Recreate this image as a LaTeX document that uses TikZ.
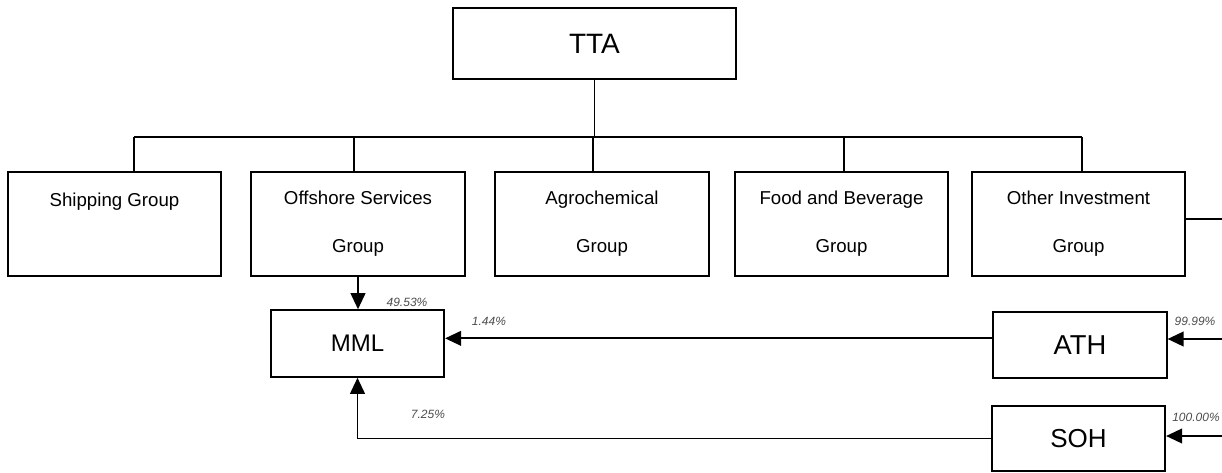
\documentclass[tikz,border=0pt]{standalone}
\usepackage{fontspec}
\setmainfont{Liberation Sans}
\usetikzlibrary{arrows.meta}
\begin{document}
\begin{tikzpicture}[x=0.75pt,y=-0.75pt,
	box/.style={draw,line width=1.4pt,inner sep=0pt,align=center},
	grp/.style={box,minimum width=160pt,minimum height=78pt,font=\fontsize{14}{36}\selectfont},
	co/.style={box,minimum width=130pt,minimum height=50pt},
	pct/.style={font=\fontsize{9}{10}\selectfont\itshape,text=black!70},
	link/.style={line width=1pt},
	own/.style={line width=1.4pt,-{Triangle[length=12pt,width=11pt]}}]
	\useasboundingbox (0,0) rectangle (1222,472);
	\node[box,minimum width=212pt,minimum height=53pt,font=\fontsize{21}{24}\selectfont] (tta) at (594.5,43.5) {TTA};
	\node[grp] (ship) at (114.5,224) {Shipping Group\\~};
	\node[grp] (off) at (358,224) {Offshore Services\\Group};
	\node[grp] (agro) at (602,224) {Agrochemical\\Group};
	\node[grp] (food) at (841.5,224) {Food and Beverage\\Group};
	\node[grp] (other) at (1078.5,224) {Other Investment\\Group};
	\node[co,font=\fontsize{18}{20}\selectfont] (mml) at (357.5,343.5) {MML};
	\node[co,minimum height=49.5pt,font=\fontsize{20.5}{22}\selectfont] (ath) at (1080,345) {ATH};
	\node[co,minimum height=49pt,font=\fontsize{19.5}{22}\selectfont] (soh) at (1078.5,438.5) {SOH};
	\node[pct] (p1) at (407,302) {49.53\%};
	\node[pct] (p2) at (489,321) {1.44\%};
	\node[pct] (p3) at (428,414) {7.25\%};
	\node[pct] (p4) at (1195,321) {99.99\%};
	\node[pct] (p5) at (1196,417) {100.00\%};
	\coordinate (busL) at (134,137);
	\coordinate (busR) at (1082,137);
	\draw[link] (tta.south) -- (tta.south |- busL);
	\draw[link] (busL) -- (busR);
	\foreach \n/\x in {ship/134,off/354,agro/593,food/844,other/1082}
	{
		\coordinate (s) at (\x,137);
		\draw[link] (s) -- (s |- \n.north);
	}
	\coordinate (e1) at (1222,219);
	\draw[link] (e1 -| other.east) -- (e1);
	\draw[own] (off.south) -- (off.south |- mml.north);
	\draw[own] ([yshift=5pt]ath.west) -- ([yshift=5pt]ath.west -| mml.east);
	\draw[own] (soh.west) -| (mml.south);
	\coordinate (r1) at (1222,339);
	\coordinate (r2) at (1222,436);
	\draw[own] (r1) -- (r1 -| ath.east);
	\draw[own] (r2) -- (r2 -| soh.east);
\end{tikzpicture}
\end{document}
